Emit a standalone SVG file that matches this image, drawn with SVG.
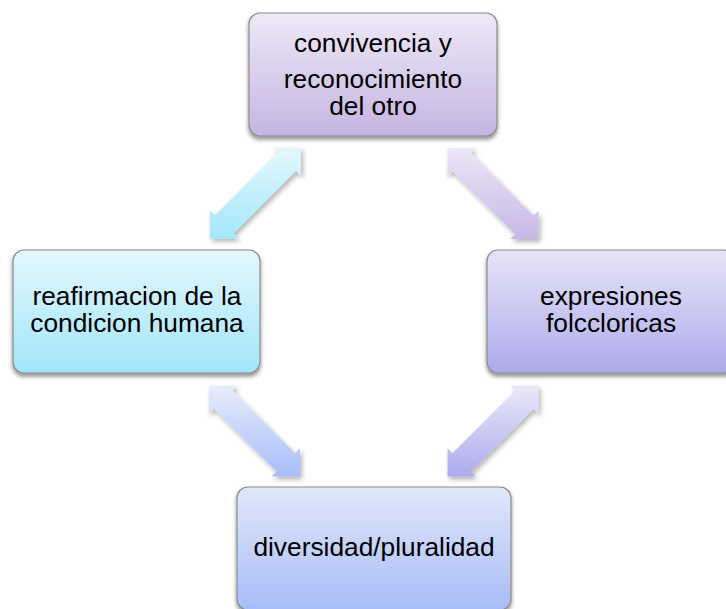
<svg xmlns="http://www.w3.org/2000/svg" xmlns:xlink="http://www.w3.org/1999/xlink" width="726" height="609" viewBox="0 0 726 609">
  <defs>
    <linearGradient id="gTop" x1="0" y1="0" x2="0" y2="1">
      <stop offset="0" stop-color="#eee9f7"/>
      <stop offset="1" stop-color="#c5b4e2"/>
    </linearGradient>
    <linearGradient id="gLeft" x1="0" y1="0" x2="0" y2="1">
      <stop offset="0" stop-color="#e4f7fd"/>
      <stop offset="1" stop-color="#a1e5fa"/>
    </linearGradient>
    <linearGradient id="gRight" x1="0" y1="0" x2="0" y2="1">
      <stop offset="0" stop-color="#e7e5f8"/>
      <stop offset="1" stop-color="#adaaec"/>
    </linearGradient>
    <linearGradient id="gBottom" x1="0" y1="0" x2="0" y2="1">
      <stop offset="0" stop-color="#e1e8fb"/>
      <stop offset="1" stop-color="#a8bcf7"/>
    </linearGradient>
    <linearGradient id="aTL" x1="0" y1="0" x2="0" y2="1">
      <stop offset="0" stop-color="#e4f7fd"/>
      <stop offset="1" stop-color="#a4e7fb"/>
    </linearGradient>
    <linearGradient id="aTR" x1="0" y1="0" x2="0" y2="1">
      <stop offset="0" stop-color="#ece7f7"/>
      <stop offset="1" stop-color="#c7b7e5"/>
    </linearGradient>
    <linearGradient id="aBL" x1="0" y1="0" x2="0" y2="1">
      <stop offset="0" stop-color="#e7edfc"/>
      <stop offset="1" stop-color="#a8bdf9"/>
    </linearGradient>
    <linearGradient id="aBR" x1="0" y1="0" x2="0" y2="1">
      <stop offset="0" stop-color="#eae9f9"/>
      <stop offset="1" stop-color="#adaaee"/>
    </linearGradient>
    <filter id="shadow" x="-20%" y="-20%" width="140%" height="150%">
      <feGaussianBlur in="SourceAlpha" stdDeviation="2.2"/>
      <feOffset dx="0" dy="3" result="b"/>
      <feComponentTransfer><feFuncA type="linear" slope="0.45"/></feComponentTransfer>
      <feMerge><feMergeNode/><feMergeNode in="SourceGraphic"/></feMerge>
    </filter>
    <filter id="ashadow" x="-20%" y="-20%" width="150%" height="150%">
      <feGaussianBlur in="SourceAlpha" stdDeviation="2.5"/>
      <feOffset dx="2" dy="3" result="b"/>
      <feComponentTransfer><feFuncA type="linear" slope="0.3"/></feComponentTransfer>
      <feMerge><feMergeNode/><feMergeNode in="SourceGraphic"/></feMerge>
    </filter>
    <path id="arrowNE" d="M45.5,-45.5 L17.22,-45.5 L22.17,-40.55 L-40.55,22.17 L-45.5,17.22 L-45.5,45.5 L-17.22,45.5 L-22.17,40.55 L40.55,-22.17 L45.5,-17.22 Z"/>
    <path id="arrowNW" d="M-45.5,-45.5 L-17.22,-45.5 L-22.17,-40.55 L40.55,22.17 L45.5,17.22 L45.5,45.5 L17.22,45.5 L22.17,40.55 L-40.55,-22.17 L-45.5,-17.22 Z"/>
  </defs>
  <style>
    .node { stroke: #8c8c8c; stroke-width: 1.2; filter: url(#shadow); }
    .label { font-family: "Liberation Sans", Arial, sans-serif; font-size: 26.3px; fill: #000; text-anchor: middle; }
    .arrow { filter: url(#ashadow); }
  </style>

  <g id="connectors">
    <use xlink:href="#arrowNE" class="arrow" transform="translate(255.5,193)" fill="url(#aTL)"/>
    <use xlink:href="#arrowNW" class="arrow" transform="translate(493,193.5)" fill="url(#aTR)"/>
    <use xlink:href="#arrowNW" class="arrow" transform="translate(254.5,431)" fill="url(#aBL)"/>
    <use xlink:href="#arrowNE" class="arrow" transform="translate(493,431)" fill="url(#aBR)"/>
  </g>

  <g id="node-top">
    <rect class="node" x="249" y="13" width="248" height="123" rx="11" fill="url(#gTop)"/>
    <text class="label" x="373" y="52">convivencia y</text>
    <text class="label" x="373" y="88">reconocimiento</text>
    <text class="label" x="373" y="115">del otro</text>
  </g>

  <g id="node-left">
    <rect class="node" x="13" y="250" width="247" height="123" rx="11" fill="url(#gLeft)"/>
    <text class="label" x="137" y="305">reafirmacion de la</text>
    <text class="label" x="137" y="332">condicion humana</text>
  </g>

  <g id="node-right">
    <rect class="node" x="487" y="250" width="248" height="123" rx="11" fill="url(#gRight)"/>
    <text class="label" x="611" y="305">expresiones</text>
    <text class="label" x="611" y="332">folccloricas</text>
  </g>

  <g id="node-bottom">
    <rect class="node" x="237" y="487" width="274" height="123" rx="11" fill="url(#gBottom)"/>
    <text class="label" x="374" y="556">diversidad/pluralidad</text>
  </g>
</svg>
